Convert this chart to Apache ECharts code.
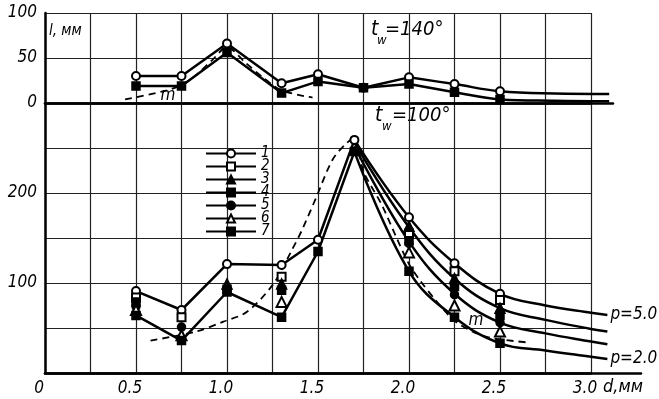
<!DOCTYPE html>
<html>
<head>
<meta charset="utf-8">
<script src="https://cdn.jsdelivr.net/npm/echarts@6/dist/echarts.min.js"></script>
<style>
html, body { margin: 0; padding: 0; background: #fff; }
#chart { width: 659px; height: 399px; }
</style>
</head>
<body>
<div id="chart"></div>
<script>
// l (мм) от d (мм): сверху t_w = 140°, снизу t_w = 100°
const topX = [0.5, 0.75, 1.0, 1.3, 1.5, 1.75, 2.0, 2.25, 2.5]
const topCircle = [30, 30, 66, 22, 32, 17, 28.5, 21, 13]
const topSquare = [19, 19, 56, 11, 24, 17, 21, 12, 4]
const topTailX = [2.8, 3.1]
const topCircleTail = [10.5, 10]
const topSquareTail = [2.5, 2]
const topMX = [0.44, 0.65, 0.75, 0.83, 0.92, 1.0, 1.1, 1.2, 1.3, 1.47]
const topM = [4, 13, 20, 31, 48, 62, 45, 28, 14, 6]

const botX = [0.5, 0.75, 1.0, 1.3, 1.5, 1.7, 2.0, 2.25, 2.5]
const s1 = [91, 70, 121, 120, 148, 259, 173, 122, 88]
const s2 = [84, 62, null, 107, null, null, 155, 113, 81]
const s3 = [null, null, 99, 99, null, null, 163, 105, 72]
const s4 = [79, null, 93, 92, null, null, 147, 96, 64]
const s5 = [74, 51, null, null, null, null, 144, 87, 56]
const s6 = [70, 42, null, 79, null, null, 134, 75, 46]
const s7 = [64, 36, 90, 62, 135, 246, 113, 62, 33]

const curveX = [1.7, 2.0, 2.25, 2.5, 2.75, 3.0, 3.09]
const curveA = [259, 173, 122, 88, 75, 67, 64.5]
const curveB = [256, 162, 105, 72, 59, 49, 46]
const curveC = [252, 146, 88, 56, 44, 35, 32]
const curveD = [246, 113, 62, 33, 25, 18, 15.5]

const mX = [0.58, 0.83, 0.98, 1.11, 1.255, 1.355, 1.41, 1.49, 1.58, 1.66, 1.7,
  1.75, 1.85, 1.93, 2.0, 2.06, 2.15, 2.25, 2.35, 2.45, 2.65]
const mY = [36, 46, 57, 68, 99, 136, 158, 195, 237, 256, 261,
  224, 187, 151, 121, 103, 80, 58, 46, 39, 34]

const topYTicks = [0, 50, 100]
const botYTicks = [100, 200]
const xTickLabels = ['0', '0.5', '1.0', '1.5', '2.0', '2.5', '3.0']
const legendNames = ['1', '2', '3', '4', '5', '6', '7']

const FONT = "'DejaVu Sans Condensed', 'DejaVu Sans', sans-serif"
const SQ_DOT = 'path://M0 0H10V10H0Z M2.5 2.5V7.5H7.5V2.5Z M4 4H6V6H4Z'

function pts(xs, ys) {
  return xs.map((x, i) => [x, ys[i]]).filter(p => p[1] != null)
}

const gridLine = { show: true, lineStyle: { color: '#222', width: 1.2 } }
const axLine = { show: true, onZero: false, lineStyle: { color: '#000', width: 2.5 } }
const lblStyle = { color: '#000', fontFamily: FONT, fontStyle: 'italic', fontSize: 17 }
const hidden = { axisLine: { show: false }, axisTick: { show: false }, axisLabel: { show: false }, splitLine: { show: false } }

// сетки 0,1 - рамки с линиями сетки; 2,3 - данные (шире, до d≈3.1-3.27)
function solid(name, gi, data, smooth, extra) {
  return Object.assign({
    name: name, type: 'line', xAxisIndex: gi, yAxisIndex: gi,
    data: data, smooth: smooth, showSymbol: false, z: 3,
    lineStyle: { color: '#000', width: 2.5 }, silent: true
  }, extra || {})
}

function markers(name, gi, data, symbol, size) {
  return {
    name: name, type: 'line', xAxisIndex: gi, yAxisIndex: gi,
    data: data, symbol: symbol, symbolSize: size, showSymbol: true,
    showAllSymbol: true, z: 5, silent: true,
    itemStyle: { color: '#000', borderColor: '#000', borderWidth: 1.5 },
    lineStyle: { width: 0, opacity: 0 }
  }
}

const endLbl = txt => ({
  show: true, formatter: txt, distance: 3, color: '#000',
  fontFamily: FONT, fontStyle: 'italic', fontSize: 17
})

const txt = (x, y, s, size, extra) => ({
  type: 'text', x: x, y: y,
  style: Object.assign({ text: s, fill: '#000', verticalAlign: 'middle',
    font: 'italic ' + size + 'px ' + FONT }, extra || {})
})

const option = {
  animation: false,
  backgroundColor: '#fff',
  grid: [
    { left: 45, top: 13, width: 546, height: 90 },
    { left: 45, top: 103, width: 546, height: 270 },
    { left: 45, top: 13, width: 568, height: 90 },
    { left: 45, top: 103, width: 596, height: 270 }
  ],
  xAxis: [
    { type: 'value', gridIndex: 0, min: 0, max: 3, interval: 0.25,
      axisLine: axLine, axisTick: { show: false }, axisLabel: { show: false },
      splitLine: gridLine },
    { type: 'value', gridIndex: 1, min: 0, max: 3, interval: 0.25,
      axisLine: axLine, axisTick: { show: false },
      axisLabel: Object.assign({ margin: 7, padding: [0, 12, 0, 0],
        formatter: v => {
          const k = Math.round(v * 2)
          return Math.abs(v * 2 - k) < 1e-6 ? xTickLabels[k] : ''
        } }, lblStyle),
      splitLine: gridLine },
    { type: 'value', gridIndex: 2, min: 0, max: 568 / 182,
      axisLine: axLine, axisTick: { show: false }, axisLabel: { show: false }, splitLine: { show: false } },
    { type: 'value', gridIndex: 3, min: 0, max: 596 / 182,
      axisLine: axLine, axisTick: { show: false }, axisLabel: { show: false }, splitLine: { show: false } }
  ],
  yAxis: [
    { type: 'value', gridIndex: 0, min: 0, max: 100, interval: 50,
      axisLine: axLine, axisTick: { show: false },
      axisLabel: Object.assign({ margin: 8,
        formatter: v => (topYTicks.includes(v) ? String(v) : '') }, lblStyle),
      splitLine: gridLine },
    { type: 'value', gridIndex: 1, min: 0, max: 300, interval: 50,
      axisLine: axLine, axisTick: { show: false },
      axisLabel: Object.assign({ margin: 8,
        formatter: v => (botYTicks.includes(v) ? String(v) : '') }, lblStyle),
      splitLine: gridLine },
    Object.assign({ type: 'value', gridIndex: 2, min: 0, max: 100 }, hidden),
    Object.assign({ type: 'value', gridIndex: 3, min: 0, max: 300 }, hidden)
  ],
  legend: {
    data: legendNames,
    orient: 'vertical', left: 200, top: 141,
    itemWidth: 50, itemHeight: 10, itemGap: -2,
    selectedMode: false,
    textStyle: { color: '#000', fontFamily: FONT, fontStyle: 'italic', fontSize: 15 },
    lineStyle: { color: '#000', width: 2, opacity: 1, type: 'solid' }
  },
  graphic: [
    txt(49, 31, 'l, мм', 15),
    txt(371, 30, 't', 21),
    txt(377, 41, 'w', 13),
    txt(385, 30, '=140°', 20),
    txt(375, 116, 't', 21),
    txt(382, 127, 'w', 13),
    txt(392, 116, '=100°', 20),
    txt(168, 96, 'm', 17, { align: 'center' }),
    txt(476, 321, 'm', 17, { align: 'center' }),
    txt(603, 387, 'd,мм', 18)
  ],
  series: [
    // маркеры нижней панели (легенда)
    markers('1', 3, pts(botX, s1), 'emptyCircle', 8),
    markers('2', 3, pts(botX, s2), 'emptyRect', 8),
    markers('3', 3, pts(botX, s3), 'triangle', 10),
    markers('4', 3, pts(botX, s4), SQ_DOT, 8),
    markers('5', 3, pts(botX, s5), 'circle', 8),
    markers('6', 3, pts(botX, s6), 'emptyTriangle', 10),
    markers('7', 3, pts(botX, s7), 'rect', 8),
    // линии нижней панели
    solid('up', 3, pts(botX.slice(0, 6), s1.slice(0, 6)), false),
    solid('low', 3, pts(botX.slice(0, 6), s7.slice(0, 6)), false),
    solid('A', 3, pts(curveX, curveA), 0.4, { endLabel: endLbl('p=5.0') }),
    solid('B', 3, pts(curveX, curveB), 0.4),
    solid('C', 3, pts(curveX, curveC), 0.4),
    solid('D', 3, pts(curveX, curveD), 0.4, { endLabel: endLbl('p=2.0') }),
    solid('m', 3, pts(mX, mY), 0.3, { z: 2, lineStyle: { color: '#000', width: 1.8, type: [7, 5] } }),
    // верхняя панель
    solid('tc', 2, pts(topX.slice(0, 7), topCircle.slice(0, 7)), false),
    solid('ts', 2, pts(topX.slice(0, 7), topSquare.slice(0, 7)), false),
    solid('tc2', 2, pts(topX.slice(6).concat(topTailX), topCircle.slice(6).concat(topCircleTail)), 0.4),
    solid('ts2', 2, pts(topX.slice(6).concat(topTailX), topSquare.slice(6).concat(topSquareTail)), 0.4),
    solid('tm', 2, pts(topMX, topM), 0.3, { z: 2, lineStyle: { color: '#000', width: 1.8, type: [7, 5] } }),
    markers('1', 2, pts(topX, topCircle), 'emptyCircle', 8),
    markers('4', 2, pts(topX, topSquare), SQ_DOT, 8)
  ]
}

const myChart = echarts.init(document.getElementById('chart'))
myChart.setOption(option)
</script>
</body>
</html>
